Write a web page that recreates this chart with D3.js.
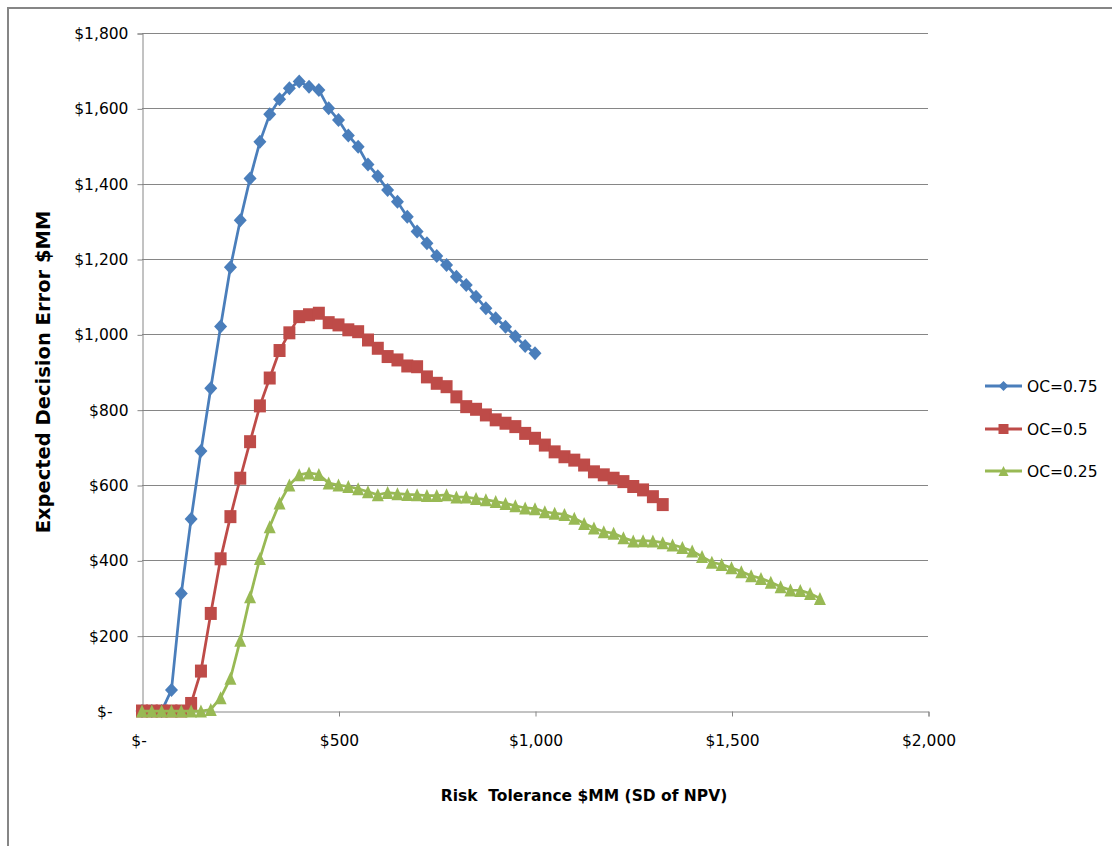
<!DOCTYPE html>
<html>
<head>
<meta charset="utf-8">
<script src="https://cdn.jsdelivr.net/npm/d3@7"></script>
<style>
  body { margin: 0; background: #fff; }
  text { font-family: "DejaVu Sans", sans-serif; fill: #000; }
</style>
</head>
<body>
<svg id="chart" width="1112" height="846"></svg>
<script>
// risk tolerance ($MM), one point every 25
const riskTolerance = [0, 25, 50, 75, 100, 125, 150, 175, 200, 225, 250, 275, 300, 325, 350, 375,
  400, 425, 450, 475, 500, 525, 550, 575, 600, 625, 650, 675, 700, 725, 750, 775, 800, 825, 850,
  875, 900, 925, 950, 975, 1000, 1025, 1050, 1075, 1100, 1125, 1150, 1175, 1200, 1225, 1250, 1275,
  1300, 1325, 1350, 1375, 1400, 1425, 1450, 1475, 1500, 1525, 1550, 1575, 1600, 1625, 1650, 1675,
  1700, 1725];

const oc075 = [0, 0, 0, 56, 312, 510, 690, 857, 1021, 1178, 1303, 1414, 1511, 1584, 1624, 1653,
  1671, 1657, 1649, 1600, 1569, 1528, 1498, 1451, 1420, 1383, 1352, 1312, 1273, 1242, 1208, 1184,
  1153, 1131, 1100, 1069, 1043, 1020, 994, 969, 950];

const oc050 = [0, 0, 0, 0, 0, 20, 106, 259, 404, 516, 618, 715, 810, 884, 957, 1004, 1047, 1052,
  1056, 1031, 1025, 1012, 1007, 985, 963, 941, 932, 916, 914, 887, 870, 861, 834, 808, 801, 786,
  773, 764, 755, 737, 724, 706, 688, 675, 666, 653, 635, 627, 618, 609, 596, 587, 569, 548];

const oc025 = [0, 0, 0, 0, 0, 0, 0, 4, 35, 87, 188, 303, 405, 489, 552, 600, 627, 632, 628, 605,
  600, 596, 590, 582, 574, 580, 577, 575, 574, 572, 572, 574, 568, 568, 564, 561, 556, 551, 545,
  539, 537, 529, 525, 522, 512, 498, 486, 476, 472, 460, 451, 452, 451, 447, 441, 434, 425, 410,
  395, 389, 380, 370, 359, 352, 342, 330, 321, 320, 312, 299];

const seriesNames = ["OC=0.75", "OC=0.5", "OC=0.25"];
const seriesColors = ["#4A7EBB", "#BE4B48", "#98B954"];
const seriesMarkers = ["diamond", "square", "triangle"];

const xTicks = [0, 500, 1000, 1500, 2000];
const xTickLabels = ["$-", "$500", "$1,000", "$1,500", "$2,000"];
const yTicks = [0, 200, 400, 600, 800, 1000, 1200, 1400, 1600, 1800];
const yTickLabels = ["$-", "$200", "$400", "$600", "$800", "$1,000", "$1,200", "$1,400", "$1,600", "$1,800"];

const svg = d3.select("#chart");
const gridColor = "#868686";

// outer chart frame (only top and left edges are inside the picture)
svg.append("rect")
  .attr("x", 8).attr("y", 8)
  .attr("width", 1200).attr("height", 900)
  .attr("fill", "none")
  .attr("stroke", gridColor)
  .attr("stroke-width", 2);

const x = d3.scaleLinear().domain([0, 2000]).range([142, 928]);
const y = d3.scaleLinear().domain([0, 1800]).range([711, 33]);

// gridlines
svg.append("g")
  .selectAll("line")
  .data(yTicks.slice(1))
  .join("line")
  .attr("x1", x(0)).attr("x2", x(2000))
  .attr("y1", d => Math.round(y(d)) + 0.5)
  .attr("y2", d => Math.round(y(d)) + 0.5)
  .attr("stroke", gridColor)
  .attr("stroke-width", 1);

// y axis
const yAxis = svg.append("g")
  .attr("transform", `translate(${x(0) + 0.5},0.5)`)
  .call(d3.axisLeft(y)
    .tickValues(yTicks)
    .tickFormat((d, i) => yTickLabels[i])
    .tickSize(5)
    .tickPadding(9));
yAxis.select(".domain").attr("stroke", gridColor);
yAxis.selectAll(".tick line").attr("stroke", gridColor);
yAxis.selectAll(".tick text")
  .style("font-size", "15.5px")
  .attr("dx", (d, i) => i === 0 ? -16 : 0);

// x axis
const xAxis = svg.append("g")
  .attr("transform", `translate(0.5,${y(0) + 0.5})`)
  .call(d3.axisBottom(x)
    .tickValues(xTicks)
    .tickFormat((d, i) => xTickLabels[i])
    .tickSize(5)
    .tickPadding(18));
xAxis.select(".domain").attr("stroke", gridColor);
xAxis.selectAll(".tick line").attr("stroke", gridColor);
xAxis.selectAll(".tick text")
  .style("font-size", "15.5px")
  .attr("dx", (d, i) => i === 0 ? -4 : 0);

// marker shapes, w/h = size in px
function markerPath(type, w, h) {
  const a = w / 2, b = h / 2;
  if (type === "diamond") return `M0,${-b}L${a},0L0,${b}L${-a},0Z`;
  if (type === "square") return `M${-a},${-b}H${a}V${b}H${-a}Z`;
  return `M0,${-b}L${a},${b}L${-a},${b}Z`;
}
const markerSize = { diamond: [13, 14], square: [12, 13], triangle: [12, 13] };

const seriesValues = [oc075, oc050, oc025];
const line = d3.line()
  .x(d => x(d.x))
  .y(d => y(d.y));

seriesValues.forEach((vals, s) => {
  const pts = vals.map((v, i) => ({ x: riskTolerance[i], y: v }));
  const m = markerSize[seriesMarkers[s]];
  const g = svg.append("g");
  g.append("path")
    .datum(pts)
    .attr("d", line)
    .attr("fill", "none")
    .attr("stroke", seriesColors[s])
    .attr("stroke-width", 2.75);
  g.selectAll("path.mk")
    .data(pts)
    .join("path")
    .attr("class", "mk")
    .attr("transform", d => `translate(${x(d.x)},${y(d.y)})`)
    .attr("d", markerPath(seriesMarkers[s], m[0], m[1]))
    .attr("fill", seriesColors[s]);
});

// axis titles
svg.append("text")
  .attr("transform", "translate(50,372) rotate(-90)")
  .attr("text-anchor", "middle")
  .style("font-size", "19.5px")
  .style("font-weight", "bold")
  .text("Expected Decision Error $MM");

svg.append("text")
  .attr("x", 584).attr("y", 801)
  .attr("text-anchor", "middle")
  .style("font-size", "15.5px")
  .style("font-weight", "bold")
  .style("white-space", "pre")
  .attr("xml:space", "preserve")
  .text("Risk  Tolerance $MM (SD of NPV)");

// legend
const legendY = [386, 429, 471];
const legend = svg.append("g");
seriesNames.forEach((name, s) => {
  const ly = legendY[s];
  legend.append("line")
    .attr("x1", 985).attr("x2", 1022)
    .attr("y1", ly).attr("y2", ly)
    .attr("stroke", seriesColors[s])
    .attr("stroke-width", 3);
  legend.append("path")
    .attr("transform", `translate(1003.5,${ly})`)
    .attr("d", markerPath(seriesMarkers[s], 10, 10))
    .attr("fill", seriesColors[s]);
  legend.append("text")
    .attr("x", 1027).attr("y", ly + 5.5)
    .style("font-size", "15.5px")
    .text(name);
});
</script>
</body>
</html>
